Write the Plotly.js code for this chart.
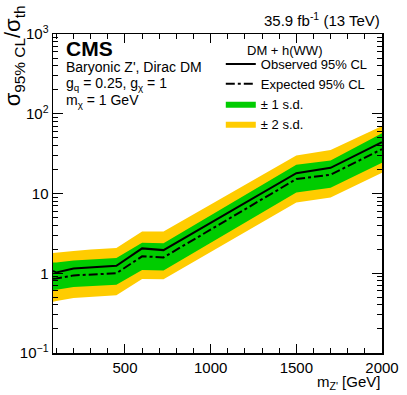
<!DOCTYPE html>
<html>
<head>
<meta charset="utf-8">
<script src="https://cdn.plot.ly/plotly-3.0.1.min.js"></script>
<style>
  html, body { margin: 0; padding: 0; background: #fff; }
  #chart { width: 407px; height: 395px; }
</style>
</head>
<body>
<div id="chart"></div>
<script>
// mediator masses (GeV) and limits
let masses  = [80, 100, 200, 300, 450, 600, 725, 1500, 1700, 2000];
let obsLim  = [1.07, 1.02, 1.15, 1.18, 1.24, 2.05, 1.95, 18, 21, 44];
let expLim  = [0.85, 0.86, 0.94, 0.97, 1.0, 1.63, 1.58, 15.2, 17.2, 36];
let exp1Lo  = [0.615, 0.62, 0.67, 0.69, 0.72, 1.1, 1.08, 10.3, 11.8, 24.3];
let exp1Hi  = [1.36, 1.36, 1.45, 1.5, 1.55, 2.42, 2.38, 23, 26, 57];
let exp2Lo  = [0.44, 0.45, 0.49, 0.5, 0.53, 0.85, 0.84, 7.7, 8.9, 18.2];
let exp2Hi  = [1.8, 1.82, 1.9, 1.98, 2.08, 3.35, 3.35, 30, 35, 70];

let yTickVals = [0.1, 1, 10, 100, 1000];
let yTickText = ['10<sup>\u22121</sup>', '1', '10', '10<sup>2</sup>', '10<sup>3</sup>'];
let xTickVals = [500, 1000, 1500, 2000];

function band(lo, hi) {
  // closed polygon: upper edge forwards, lower edge back
  return {
    x: masses.concat(masses.slice().reverse()),
    y: hi.concat(lo.slice().reverse())
  };
}

let font = 'Liberation Sans, Arial, Helvetica, sans-serif';
let green = '#00cc00';
let yellow = '#ffcc00';

let b2 = band(exp2Lo, exp2Hi);
let b1 = band(exp1Lo, exp1Hi);

var data = [
  {
    x: b2.x, y: b2.y, type: 'scatter', mode: 'lines',
    fill: 'toself', fillcolor: yellow, line: {width: 0, color: yellow},
    name: '\u00b1 2 s.d.', legendrank: 4, hoverinfo: 'skip'
  },
  {
    x: b1.x, y: b1.y, type: 'scatter', mode: 'lines',
    fill: 'toself', fillcolor: green, line: {width: 0, color: green},
    name: '\u00b1 1 s.d.', legendrank: 3, hoverinfo: 'skip'
  },
  {
    x: masses, y: expLim, type: 'scatter', mode: 'lines',
    line: {color: '#000', width: 2, dash: 'dashdot'},
    name: 'Expected 95% CL', legendrank: 2
  },
  {
    x: masses, y: obsLim, type: 'scatter', mode: 'lines',
    line: {color: '#000', width: 2},
    name: 'Observed 95% CL', legendrank: 1
  }
];

var layout = {
  width: 407,
  height: 395,
  margin: {l: 53, r: 25, t: 34, b: 42},
  paper_bgcolor: '#fff',
  plot_bgcolor: '#fff',
  font: {family: font, size: 14, color: '#000'},
  showlegend: true,
  legend: {
    x: 0.51, y: 0.953, xanchor: 'left', yanchor: 'top',
    bgcolor: 'rgba(0,0,0,0)',
    font: {family: font, size: 13, color: '#000'},
    itemwidth: 30,
    traceorder: 'normal'
  },
  xaxis: {
    range: [80, 2000],
    tickvals: xTickVals,
    ticks: 'inside', ticklen: 9, tickwidth: 1, tickcolor: '#000',
    minor: {dtick: 100, ticks: 'inside', ticklen: 5, tickcolor: '#000'},
    showline: true, linecolor: '#000', linewidth: 1.5, mirror: 'allticks',
    showgrid: false, zeroline: false,
    tickfont: {size: 15}
  },
  yaxis: {
    type: 'log',
    range: [-1, 3],
    tickvals: yTickVals,
    ticktext: yTickText,
    ticks: 'inside', ticklen: 10, tickwidth: 1, tickcolor: '#000',
    minor: {dtick: 'D1', ticks: 'inside', ticklen: 5, tickcolor: '#000'},
    showline: true, linecolor: '#000', linewidth: 1.5, mirror: 'allticks',
    showgrid: false, zeroline: false,
    tickfont: {size: 15}
  },
  annotations: [
    {
      text: '\u03c3<sub>95% CL</sub>/\u03c3<sub>th</sub>',
      xref: 'paper', yref: 'paper', x: -0.118, y: 1.095,
      xanchor: 'center', yanchor: 'top', textangle: -90,
      showarrow: false, font: {size: 22}
    },
    {
      text: 'm<sub>Z\'</sub> [GeV]',
      xref: 'paper', yref: 'paper', x: 1.0, y: -0.092,
      xanchor: 'right', yanchor: 'middle',
      showarrow: false, font: {size: 15}
    },
    {
      text: '35.9 fb<sup>-1</sup> (13 TeV)',
      xref: 'paper', yref: 'paper', x: 1.0, y: 1.01,
      xanchor: 'right', yanchor: 'bottom',
      showarrow: false, font: {size: 15}
    },
    {
      text: '<b>CMS</b>',
      xref: 'paper', yref: 'paper', x: 0.033, y: 0.956,
      xanchor: 'left', yanchor: 'middle',
      showarrow: false, font: {size: 21}
    },
    {
      text: 'Baryonic Z\', Dirac DM',
      xref: 'paper', yref: 'paper', x: 0.033, y: 0.896,
      xanchor: 'left', yanchor: 'middle',
      showarrow: false, font: {size: 14}
    },
    {
      text: 'g<sub>q</sub> = 0.25, g<sub>\u03c7</sub> = 1',
      xref: 'paper', yref: 'paper', x: 0.033, y: 0.843,
      xanchor: 'left', yanchor: 'middle',
      showarrow: false, font: {size: 14}
    },
    {
      text: 'm<sub>\u03c7</sub> = 1 GeV',
      xref: 'paper', yref: 'paper', x: 0.033, y: 0.791,
      xanchor: 'left', yanchor: 'middle',
      showarrow: false, font: {size: 14}
    },
    {
      text: 'DM + h(WW)',
      xref: 'paper', yref: 'paper', x: 0.585, y: 0.947,
      xanchor: 'left', yanchor: 'middle',
      showarrow: false, font: {size: 13}
    }
  ]
};

Plotly.newPlot('chart', data, layout, {displayModeBar: false, staticPlot: true});
</script>
</body>
</html>
